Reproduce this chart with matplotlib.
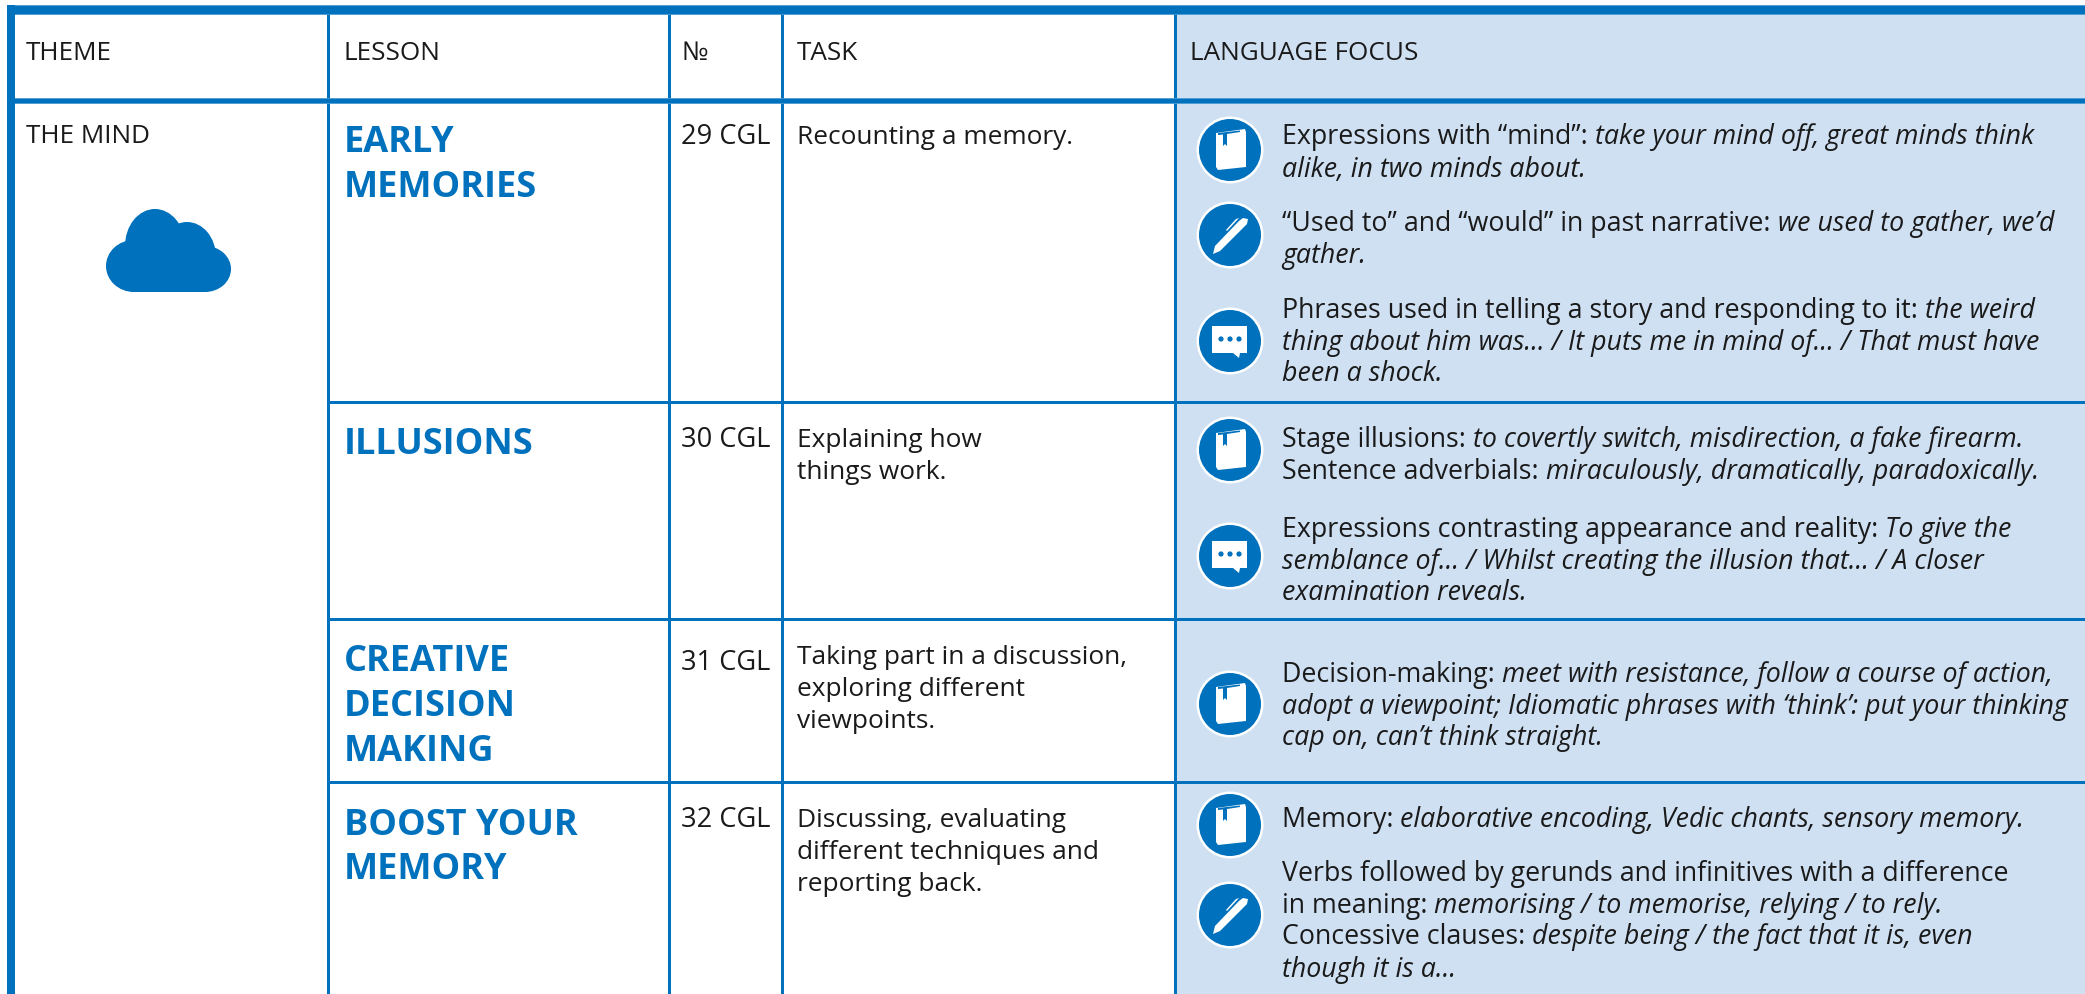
#!/usr/bin/env python

from matplotlib import pyplot as plt
from matplotlib.patches import Circle, Ellipse, Polygon, Rectangle

BLUE = "#0071bc"
PANEL = "#cfe0f3"
FONT = "Open Sans"
INK = "#1a1a1a"

headers = ["THEME", "LESSON", "№", "TASK", "LANGUAGE FOCUS"]
theme = "THE MIND"
lessons = [
    ["EARLY", "MEMORIES"],
    ["ILLUSIONS"],
    ["CREATIVE", "DECISION", "MAKING"],
    ["BOOST YOUR", "MEMORY"],
]
numbers = ["29 CGL", "30 CGL", "31 CGL", "32 CGL"]
tasks = [
    ["Recounting a memory."],
    ["Explaining how", "things work."],
    ["Taking part in a discussion,", "exploring different", "viewpoints."],
    ["Discussing, evaluating", "different techniques and", "reporting back."],
]
# *...* marks the italic part of a line
focus = [
    "Expressions with “mind”: *take your mind off, great minds think*",
    "*alike, in two minds about.*",
    "“Used to” and “would” in past narrative: *we used to gather, we’d*",
    "*gather.*",
    "Phrases used in telling a story and responding to it: *the weird*",
    "*thing about him was… / It puts me in mind of… / That must have*",
    "*been a shock.*",
    "Stage illusions: *to covertly switch, misdirection, a fake firearm.*",
    "Sentence adverbials: *miraculously, dramatically, paradoxically.*",
    "Expressions contrasting appearance and reality: *To give the*",
    "*semblance of… / Whilst creating the illusion that… / A closer*",
    "*examination reveals.*",
    "Decision-making: *meet with resistance, follow a course of action,*",
    "*adopt a viewpoint; Idiomatic phrases with ‘think’: put your thinking*",
    "*cap on, can’t think straight.*",
    "Memory: *elaborative encoding, Vedic chants, sensory memory.*",
    "Verbs followed by gerunds and infinitives with a difference",
    "in meaning: *memorising / to memorise, relying / to rely.*",
    "Concessive clauses: *despite being / the fact that it is, even*",
    "*though it is a…*",
]
icons = ["book", "pen", "bubble", "book", "bubble", "book", "book", "pen"]

# layout, in pixels of the picture
col_x = [327, 668, 781, 1174]
row_y = [403, 620, 783]
header_x = [26, 344, 681, 797, 1190]
lesson_y = [[152, 197], [454], [671, 716, 761], [835, 879]]
number_y = [144, 447, 670, 827]
task_y = [[144], [447, 479], [664, 696, 728], [827, 859, 891]]
focus_y = [144, 177, 231, 263, 318, 350, 381, 447, 479, 537, 569, 600,
           682, 714, 745, 827, 881, 913, 944, 977]
icon_y = [151, 236, 342, 451, 557, 705, 826, 916]


def draw_runs(ax, renderer, x, y, line, size):
    # roman and italic pieces follow each other on one baseline
    for i, part in enumerate(line.split("*")):
        if not part:
            continue
        t = ax.text(x, y, part, fontsize=size, family=FONT, color=INK,
                    style="italic" if i % 2 else "normal", va="baseline", ha="left")
        x += t.get_window_extent(renderer).width


def draw_icon(ax, kind, cx, cy):
    ax.add_patch(Circle((cx, cy), 33.5, fc="white", ec="none", zorder=3))
    ax.add_patch(Circle((cx, cy), 31, fc=BLUE, ec="none", zorder=4))
    if kind == "book":
        ax.add_patch(Polygon([(cx - 14, cy - 17), (cx + 15, cy - 21), (cx + 16, cy - 18),
                              (cx + 16, cy + 17), (cx - 12, cy + 20), (cx - 14, cy + 17)],
                             fc="white", ec="none", zorder=5))
        ax.add_patch(Polygon([(cx - 12, cy - 17), (cx + 10, cy - 19.5), (cx + 10, cy - 18),
                              (cx - 3, cy - 16), (cx - 3, cy - 4), (cx - 5, cy - 6),
                              (cx - 7, cy - 4), (cx - 7, cy - 15.5), (cx - 12, cy - 15)],
                             fc=BLUE, ec="none", zorder=6))
    elif kind == "pen":
        ax.add_patch(Polygon([(cx - 17, cy + 19), (cx - 15, cy + 11), (cx + 9, cy - 14),
                              (cx + 13, cy - 17), (cx + 18, cy - 16), (cx + 17, cy - 11),
                              (cx + 14, cy - 8), (cx - 10, cy + 16)],
                             fc="white", ec="none", zorder=5))
        ax.add_patch(Polygon([(cx - 4, cy - 5), (cx + 6, cy - 16), (cx + 9, cy - 17), (cx - 3, cy - 4)],
                             fc="white", ec="none", zorder=5))
    else:
        ax.add_patch(Polygon([(cx - 18, cy - 15), (cx + 17, cy - 15), (cx + 17, cy + 12),
                              (cx + 10, cy + 12), (cx + 9, cy + 17), (cx + 3, cy + 12),
                              (cx - 18, cy + 12)], fc="white", ec="none", zorder=5))
        for dx in (-9, 0, 9):
            ax.add_patch(Circle((cx + dx, cy - 2), 2.6, fc=BLUE, ec="none", zorder=6))


def draw_cloud(ax):
    for cx, cy, rx, ry in [(155, 247, 30, 37), (187, 258, 29, 35),
                           (134, 267, 28, 26), (205, 270, 26, 23)]:
        ax.add_patch(Ellipse((cx, cy), 2 * rx, 2 * ry, fc=BLUE, ec="none"))
    ax.add_patch(Rectangle((134, 262), 71, 31, fc=BLUE, ec="none"))


def main():
    fig = plt.figure(figsize=(20.85, 9.95), dpi=100)
    ax = fig.add_axes([0, 0, 1, 1])
    ax.set_xlim(0, 2085)
    ax.set_ylim(995, 0)
    ax.axis("off")
    renderer = fig.canvas.get_renderer()

    ax.add_patch(Rectangle((1175, 14), 910, 981, fc=PANEL, ec="none"))

    for x in col_x:
        ax.add_patch(Rectangle((x, 14), 3, 981, fc=BLUE, ec="none", zorder=2))
    for y in row_y:
        ax.add_patch(Rectangle((327, y - 1.5), 1758, 3, fc=BLUE, ec="none", zorder=2))
    ax.add_patch(Rectangle((7, 6), 2078, 8.5, fc=BLUE, ec="#4a9bd4", lw=0.6, zorder=2))
    ax.add_patch(Rectangle((7, 98.7), 2078, 5, fc=BLUE, ec="#4a9bd4", lw=0.6, zorder=2))
    ax.add_patch(Rectangle((7, 6), 8, 989, fc=BLUE, ec="none", zorder=2))

    for x, label in zip(header_x, headers):
        ax.text(x, 60, label, fontsize=18.8, family=FONT, color=INK, va="baseline")
    ax.text(header_x[0], 143, theme, fontsize=18.8, family=FONT, color=INK, va="baseline")
    draw_cloud(ax)

    for lines, ys in zip(lessons, lesson_y):
        for line, y in zip(lines, ys):
            ax.text(header_x[1], y, line, fontsize=26, family=FONT, weight="bold",
                    color=BLUE, va="baseline")
    for label, y in zip(numbers, number_y):
        ax.text(header_x[2], y, label, fontsize=19.6, family=FONT, color=INK, va="baseline")
    for lines, ys in zip(tasks, task_y):
        for line, y in zip(lines, ys):
            ax.text(header_x[3], y, line, fontsize=18.95, family=FONT, color=INK, va="baseline")
    for line, y in zip(focus, focus_y):
        draw_runs(ax, renderer, 1282, y, line, 19.3)
    for kind, y in zip(icons, icon_y):
        draw_icon(ax, kind, 1230, y)

    fig.savefig("out.png", dpi=100)


if __name__ == "__main__":
    main()
